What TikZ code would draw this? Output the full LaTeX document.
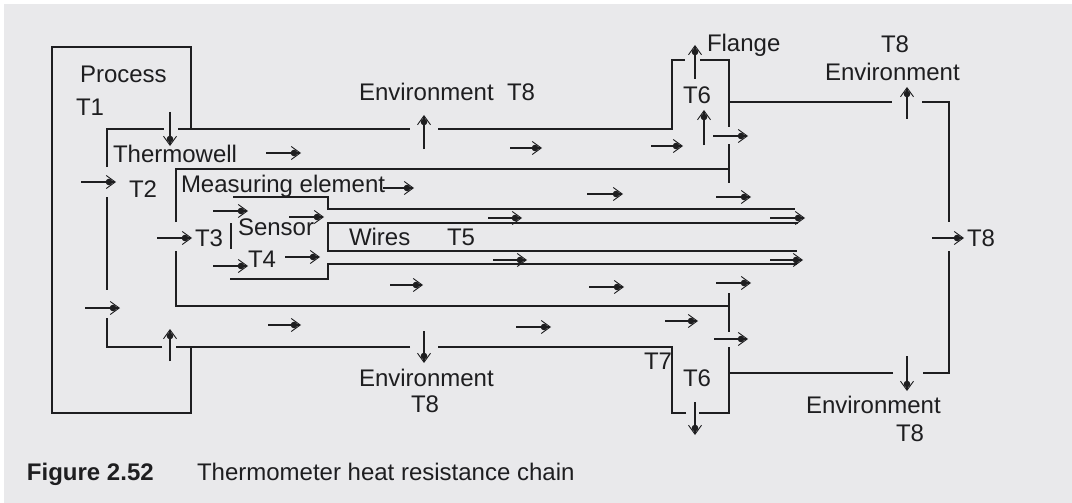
\documentclass[tikz,border=0pt]{standalone}
\usepackage{fontspec}
\setmainfont{Liberation Sans}
\usepackage{xcolor}
\usepackage{tikz}
\usetikzlibrary{
	arrows.meta
}
\definecolor{PanelGray}{RGB}{233,233,235}
\definecolor{InkGray}{RGB}{30,30,32}
\tikzset{
	wall/.style={line width=1.6pt, InkGray},
	flow/.style={line width=1.3pt, InkGray, -{Circle[length=6.5pt,width=6.5pt,sep=-6.5pt]Straight Barb[length=9pt,width=13pt,line width=.9pt]}},
	label/.style={anchor=base west, inner sep=0pt, outer sep=0pt, text=InkGray, font=\fontsize{24}{28}\selectfont}
}

\begin{document}
\begin{tikzpicture}[x=1pt, y=-1pt]
			\useasboundingbox (0,0) rectangle (1072,503);
			\fill[PanelGray] (4,4) rectangle (1072,503);
			\begin{scope}[wall]
				\draw (191,129) -- (191,47) -- (52,47) -- (52,413) -- (191,413) -- (191,347);
				\draw (107,167) -- (107,129) -- (164,129);
				\draw (178,129) -- (410,129);
				\draw (438,129) -- (672,129) -- (672,60) -- (685,60);
				\draw (700,60) -- (729,60) -- (729,127);
				\draw (729,144) -- (729,183);
				\draw (729,102) -- (892,102);
				\draw (922,102) -- (949,102) -- (949,222);
				\draw (949,251) -- (949,373) -- (923,373);
				\draw (893,373) -- (729,373);
				\draw (729,347) -- (729,413) -- (699,413);
				\draw (686,413) -- (672,413) -- (672,347) -- (438,347);
				\draw (410,347) -- (176,347);
				\draw (162,347) -- (107,347) -- (107,318);
				\draw (107,197) -- (107,290);
				\draw (176,222) -- (176,169) -- (729,169);
				\draw (176,251) -- (176,306) -- (729,306);
				\draw (729,293) -- (729,332);
				\draw (233,197) -- (328,197) -- (328,209) -- (795,209);
				\draw (798,223) -- (328,223) -- (328,251) -- (797,251);
				\draw (797,264) -- (328,264) -- (328,279) -- (230,279);
				\draw (231,223) -- (231,249);
			\end{scope}
			\foreach \x/\ya/\yb in {170/112/146, 170/361/329, 424/149/115, 424/331/363, 695/79/45, 704/145/110, 907/119/87, 907/356/391, 695/402/435}
				\draw[flow] (\x,\ya) -- (\x,\yb);
			\foreach \y/\xa/\xb in {182/81/116, 308/85/120, 153/266/301, 325/268/301, 238/157/192, 211/213/248, 217/289/324, 257/285/320, 266/213/248, 188/383/414, 148/510/542, 194/587/623, 218/488/522, 260/493/527, 285/390/423, 287/589/624, 327/516/551, 146/651/683, 136/713/748, 197/716/751, 218/770/805, 260/770/803, 283/716/751, 321/665/698, 339/714/748, 238/932/964}
				\draw[flow] (\xa,\y) -- (\xb,\y);
			\node[label] (process) at (80,83) {Process};
			\node[label] (tone) at (76,116) {T1};
			\node[label] (thermowell) at (113,162) {Thermowell};
			\node[label] (ttwo) at (129,197) {T2};
			\node[label] (element) at (181,192) {Measuring element};
			\node[label] (tthree) at (195,246) {T3};
			\node[label] (sensor) at (238,235) {Sensor};
			\node[label] (tfour) at (248,267) {T4};
			\node[label] (wires) at (349,245) {Wires};
			\node[label] (tfive) at (447,245) {T5};
			\node[label] (envtop) at (359,101) {Environment\ \ T8};
			\node[label] (envlow) at (359,386) {Environment};
			\node[label] (envlowt) at (411,412) {T8};
			\node[label] (flange) at (707,52) {Flange};
			\node[label] (righttop) at (881,53) {T8};
			\node[label] (envright) at (825,81) {Environment};
			\node[label] (tsix) at (683,103) {T6};
			\node[label] (tright) at (967,246) {T8};
			\node[label] (tseven) at (644,369) {T7};
			\node[label] (tsixlow) at (683,386) {T6};
			\node[label] (envrightlow) at (806,413) {Environment};
			\node[label] (rightlow) at (896,441) {T8};
			\node[label] (figno) at (27,480) {\textbf{Figure 2.52}};
			\node[label] (caption) at (197,480) {Thermometer heat resistance chain};
		\end{tikzpicture}
\end{document}
